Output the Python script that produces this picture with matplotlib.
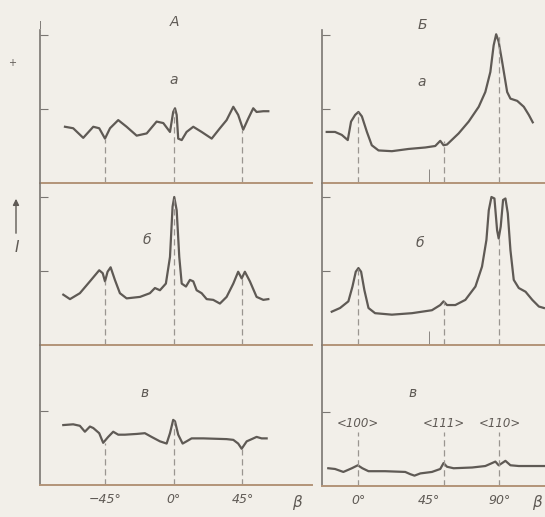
import matplotlib
matplotlib.use("Agg")
import matplotlib.pyplot as plt

W, H = 545, 517
BG = "#f2efe9"
INK = "#5f5a55"
AXC = "#7a7672"
BASE = "#b39478"
DASH = "#9a9590"

# ---- column A (left), angle beta in degrees, intensity in tick units ----
a_left_beta = [-71.6, -66.2, -59.6, -53.0, -49.1, -45.3, -42.0, -36.6, -31.1, -24.5,
               -17.9, -11.4, -7.0, -2.6, -0.5, 0.7, 1.8, 2.8, 5.1, 8.3, 12.7, 18.2,
               24.8, 30.2, 34.6, 39.0, 42.2, 45.5, 48.8, 52.1, 54.3, 58.7, 62.0]
a_left_I = [0.76, 0.74, 0.61, 0.76, 0.74, 0.60, 0.74, 0.85, 0.76, 0.64,
            0.67, 0.83, 0.81, 0.69, 0.96, 1.01, 0.92, 0.60, 0.58, 0.69, 0.76, 0.69,
            0.60, 0.74, 0.85, 1.03, 0.92, 0.72, 0.87, 1.01, 0.96, 0.97, 0.97]

b_left_beta = [-72.7, -68.3, -61.8, -55.2, -49.1, -46.8, -45.3, -43.6, -41.6, -38.8,
               -35.5, -31.1, -22.3, -15.8, -12.5, -9.2, -5.3, -2.6, -0.9, 0.2, 1.8,
               3.5, 5.1, 7.9, 10.5, 12.7, 14.9, 18.2, 21.5, 25.8, 30.2, 34.6, 39.0,
               42.2, 44.5, 46.6, 49.9, 54.3, 58.7, 62.0]
b_left_I = [0.68, 0.62, 0.70, 0.86, 1.01, 0.97, 0.86, 0.99, 1.05, 0.88,
            0.70, 0.63, 0.65, 0.70, 0.77, 0.74, 0.83, 1.19, 1.87, 2.00, 1.82,
            1.19, 0.83, 0.79, 0.88, 0.86, 0.74, 0.70, 0.62, 0.61, 0.56, 0.65, 0.83,
            0.99, 0.90, 0.99, 0.86, 0.65, 0.61, 0.62]

c_left_beta = [-72.7, -66.2, -61.8, -58.5, -55.2, -53.0, -49.1, -46.5, -43.2, -39.9,
               -36.6, -32.2, -24.5, -19.1, -14.7, -9.2, -4.8, -2.6, -0.5, 0.7, 2.8,
               5.7, 8.3, 11.6, 19.3, 34.6, 39.0, 42.2, 44.5, 47.8, 51.1, 54.3, 57.6, 60.9]
c_left_I = [0.81, 0.82, 0.80, 0.72, 0.79, 0.77, 0.70, 0.57, 0.65, 0.72,
            0.68, 0.68, 0.69, 0.70, 0.65, 0.59, 0.56, 0.70, 0.88, 0.86, 0.68,
            0.56, 0.59, 0.63, 0.63, 0.62, 0.61, 0.56, 0.49, 0.59, 0.62, 0.65, 0.63, 0.63]

# ---- column Б (right) ----
a_right_beta = [-20.0, -14.7, -10.4, -6.6, -4.5, -1.9, 0.2, 2.4, 5.6, 8.7, 13.0, 21.5,
                32.1, 42.8, 49.1, 52.3, 54.4, 56.6, 64.0, 70.4, 76.8, 81.0, 84.2,
                86.3, 87.9, 89.5, 91.7, 94.9, 97.0, 101.3, 105.5, 108.7, 111.2]
a_right_I = [0.69, 0.69, 0.65, 0.58, 0.83, 0.92, 0.96, 0.90, 0.69, 0.51, 0.44, 0.43,
             0.46, 0.48, 0.50, 0.57, 0.51, 0.52, 0.67, 0.83, 1.03, 1.23, 1.50,
             1.86, 2.01, 1.91, 1.64, 1.23, 1.14, 1.11, 1.03, 0.92, 0.82]

b_right_beta = [-16.8, -11.5, -6.2, -3.6, -1.5, 0.2, 1.9, 4.0, 6.6, 10.8, 21.5, 34.3,
                47.0, 52.3, 54.4, 56.6, 61.9, 68.3, 74.7, 78.9, 81.7, 83.2, 84.9,
                86.8, 88.5, 89.5, 90.8, 92.3, 93.8, 95.3, 97.0, 99.1, 102.3, 106.6,
                110.9, 115.1, 118.3]
b_right_I = [0.45, 0.50, 0.59, 0.79, 0.99, 1.04, 0.99, 0.74, 0.50, 0.43, 0.41, 0.43,
             0.47, 0.54, 0.59, 0.54, 0.54, 0.61, 0.79, 1.06, 1.42, 1.82, 2.00,
             1.98, 1.55, 1.44, 1.60, 1.96, 1.98, 1.78, 1.28, 0.88, 0.77, 0.72,
             0.61, 0.52, 0.50]

c_right_beta = [-19.0, -14.7, -9.4, -4.0, -0.2, 2.7, 6.6, 17.2, 30.0, 33.2, 35.9, 39.6,
                47.0, 52.3, 54.4, 56.6, 60.8, 72.6, 81.0, 85.3, 87.4, 89.5, 91.7,
                93.8, 97.0, 102.3, 111.0, 118.3]
c_right_I = [0.24, 0.23, 0.19, 0.24, 0.28, 0.24, 0.20, 0.20, 0.19, 0.16, 0.14, 0.17,
             0.19, 0.23, 0.31, 0.26, 0.24, 0.25, 0.27, 0.31, 0.33, 0.28, 0.31,
             0.34, 0.28, 0.27, 0.27, 0.27]

# dashed guide lines: positions and their top ends
left_marks = [-45, 0, 45]
right_marks = [0, 54.7, 90]
left_dash_tops = [[0.60, 1.0, 0.72], [0.86, 2.0, 0.90], [0.57, 0.86, 0.49]]
right_dash_tops = [[0.96, 0.57, 2.0], [1.04, 0.59, 1.44], [0.73, 0.73, 0.73]]
orient_labels = ["<100>", "<111>", "<110>"]

left_series = [(a_left_beta, a_left_I), (b_left_beta, b_left_I), (c_left_beta, c_left_I)]
right_series = [(a_right_beta, a_right_I), (b_right_beta, b_right_I), (c_right_beta, c_right_I)]

UNIT = 74.0  # pixels per intensity tick
rows = [(30, 183), (183, 345), (345, 485)]

plt.rcParams['font.family'] = ['DejaVu Sans']
fig = plt.figure(figsize=(W / 100, H / 100), dpi=100, facecolor=BG)


def add_panel(x0, x1, top, bottom):
    ax = fig.add_axes([x0 / W, 1 - bottom / H, (x1 - x0) / W, (bottom - top) / H])
    ax.set_facecolor("none")
    ax.set_ylim(0, (bottom - top) / UNIT)
    for s in ("top", "right"):
        ax.spines[s].set_visible(False)
    ax.spines["left"].set_color(AXC)
    ax.spines["left"].set_linewidth(1.2)
    ax.spines["bottom"].set_color(BASE)
    ax.spines["bottom"].set_linewidth(1.4)
    ax.tick_params(axis="y", direction="in", length=6, color=AXC, labelleft=False)
    ax.tick_params(axis="x", length=0, labelbottom=False)
    return ax


for i, (top, bottom) in enumerate(rows):
    # left column
    ax = add_panel(40, 312, top, bottom)
    ax.set_xlim(-88, 90.7)
    ax.set_yticks([1, 2] if i < 2 else [1])
    bx, by = left_series[i]
    ax.plot(bx, by, color=INK, lw=1.6, solid_joinstyle="round")
    for m, t in zip(left_marks, left_dash_tops[i]):
        ax.vlines(m, 0, t, colors=DASH, lw=0.9, linestyles=(0, (5, 3)))
    if i == 2:
        ax.set_xticks(left_marks)
        ax.set_xticklabels(["\u221245\u00b0", "0\u00b0", "45\u00b0"], style="italic",
                           color=INK, fontsize=9)
        ax.tick_params(axis="x", labelbottom=True, pad=6)

    # right column
    bottom_r = bottom + (1 if i == 2 else 0)
    ax = add_panel(322, 545, top, bottom_r)
    ax.set_xlim(-23, 119)
    ax.set_yticks([1, 2] if i < 2 else [1])
    bx, by = right_series[i]
    ax.plot(bx, by, color=INK, lw=1.6, solid_joinstyle="round")
    for m, t in zip(right_marks, right_dash_tops[i]):
        ax.vlines(m, 0, t, colors=DASH, lw=0.9, linestyles=(0, (5, 3)))
    ax.set_xticks([45], minor=True)
    ax.tick_params(axis="x", which="minor", direction="in", length=10, color=AXC)
    if i == 2:
        ax.set_xticks([0, 45, 90])
        ax.set_xticklabels(["0\u00b0", "45\u00b0", "90\u00b0"], style="italic",
                           color=INK, fontsize=9)
        ax.tick_params(axis="x", which="major", labelbottom=True, pad=6)
        for m, lab in zip(right_marks, orient_labels):
            ax.text(m, 0.85, lab, ha="center", va="center", style="italic",
                    color=INK, fontsize=8.5)


def ftext(x, y, s, **kw):
    kw.setdefault("color", INK)
    kw.setdefault("style", "italic")
    fig.text(x / W, 1 - y / H, s, ha="center", va="center", **kw)


ftext(174, 22, "А", fontsize=10)
ftext(422, 25, "Б", fontsize=10)
ftext(174, 80, "а", fontsize=10)
ftext(422, 82, "а", fontsize=10)
ftext(147, 240, "б", fontsize=10)
ftext(420, 243, "б", fontsize=10)
ftext(145, 393, "в", fontsize=10)
ftext(413, 393, "в", fontsize=10)
ftext(297, 503, "β", fontsize=11)
ftext(537, 503, "β", fontsize=11)
ftext(12, 63, "+", fontsize=7, style="normal")
ftext(17, 248, "I", fontsize=11)
fig.text(40 / W, 1 - 26 / H, "I", ha="center", va="center", color=AXC, fontsize=7)

fig.add_artist(matplotlib.patches.FancyArrowPatch(
    (16 / W, 1 - 236 / H), (16 / W, 1 - 196 / H), transform=fig.transFigure,
    arrowstyle="-|>", mutation_scale=9, color=INK, lw=1.0))

fig.savefig("out.png", dpi=100, facecolor=BG)
